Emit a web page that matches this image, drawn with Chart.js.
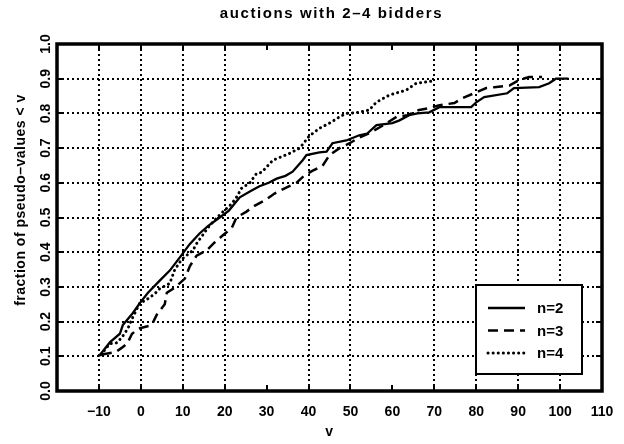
<!DOCTYPE html>
<html>
<head>
<meta charset="utf-8">
<script src="https://cdn.jsdelivr.net/npm/chart.js@4.4.0/dist/chart.umd.min.js"></script>
<style>
  html, body { margin: 0; padding: 0; background: #fff; }
</style>
</head>
<body>
<canvas id="chart" width="624" height="444"></canvas>
<script>
const vN2 = [-10, -7.4, -5, -4.3, -1.9, -0.2, 1.7, 4.5, 6.9, 9.3, 11.7, 14, 16, 18.8, 21, 23.6, 26, 28.3, 30.5, 32.4,
  34.5, 36.2, 38.6, 39.5, 42.6, 44.3, 45.7, 49, 52.1, 54, 56.2, 60, 61.7, 64, 66, 68.8, 71.2, 78.8, 80, 81.9,
  87.4, 89, 95, 97.4, 99, 102]
const fN2 = [0.10, 0.14, 0.165, 0.19, 0.225, 0.254, 0.283, 0.318, 0.347, 0.385, 0.424, 0.454, 0.475, 0.50, 0.52, 0.558, 0.575, 0.59, 0.60, 0.612,
  0.62, 0.632, 0.665, 0.68, 0.688, 0.69, 0.714, 0.722, 0.737, 0.742, 0.766, 0.772, 0.78, 0.795, 0.80, 0.803, 0.818, 0.818, 0.832, 0.847,
  0.858, 0.873, 0.876, 0.887, 0.90, 0.90]

const vN3 = [-9.3, -6, -4.5, -3.3, -2.1, -0.5, 2.6, 3.8, 5.7, 6.2, 8.1, 10.5, 11.7, 13.3, 15.7, 17.6, 19.5, 21.7, 22.8, 25.2,
  27, 29.5, 31.9, 34.8, 37.1, 39, 41, 43.3, 45, 47.4, 49.8, 52, 54.5, 57, 61, 63.6, 66.4, 68.8, 71, 74.8,
  76.7, 79.5, 82.4, 84.8, 87.9, 90.2, 92.6, 95.7]
const fN3 = [0.105, 0.112, 0.125, 0.136, 0.165, 0.18, 0.19, 0.22, 0.25, 0.283, 0.298, 0.324, 0.36, 0.39, 0.405, 0.428, 0.448, 0.47, 0.50, 0.517,
  0.533, 0.549, 0.569, 0.587, 0.60, 0.621, 0.635, 0.648, 0.68, 0.70, 0.714, 0.73, 0.743, 0.76, 0.79, 0.795, 0.81, 0.815, 0.823, 0.83,
  0.844, 0.858, 0.873, 0.876, 0.88, 0.896, 0.905, 0.905]

const vN4 = [-9.5, -7.4, -5.7, -4.5, -3.1, -2.1, -0.2, 1, 3.3, 4.5, 6.9, 8.1, 9.8, 12.4, 13.3, 16.4, 19, 21.7, 22.8, 24,
  26, 27.6, 28.8, 31.5, 35.5, 37.9, 39, 40.2, 42.6, 45, 47.4, 49, 52, 54.5, 56, 57, 59.3, 63.3, 65.7, 69.5]
const fN4 = [0.105, 0.136, 0.139, 0.155, 0.18, 0.208, 0.255, 0.26, 0.28, 0.295, 0.31, 0.35, 0.38, 0.405, 0.425, 0.477, 0.51, 0.54, 0.558, 0.584,
  0.60, 0.627, 0.63, 0.665, 0.685, 0.70, 0.717, 0.735, 0.757, 0.772, 0.79, 0.80, 0.803, 0.81, 0.83, 0.838, 0.853, 0.867, 0.887, 0.893]

const seriesLabels = ['n=2', 'n=3', 'n=4']
// grid lines that show in the original (none at 30 and 60)
const xGrid = [-10, 0, 10, 20, 40, 50, 70, 80, 90, 100]
const yGrid = [0.1, 0.2, 0.3, 0.4, 0.5, 0.6, 0.7, 0.8, 0.9]

const FONT = "'Liberation Sans', Arial, sans-serif"

function pts(vs, fs) {
  return vs.map((v, i) => ({ x: v, y: fs[i] }))
}

const framePlugin = {
  id: 'frame',
  beforeDatasetsDraw(chart) {
    const { ctx, chartArea: a, scales: { x, y } } = chart
    ctx.save()
    ctx.strokeStyle = '#000'
    ctx.lineWidth = 2
    ctx.setLineDash([2, 3])
    xGrid.forEach(v => {
      const px = Math.round(x.getPixelForValue(v))
      ctx.beginPath(); ctx.moveTo(px, a.top); ctx.lineTo(px, a.bottom); ctx.stroke()
    })
    yGrid.forEach(v => {
      const py = Math.round(y.getPixelForValue(v))
      ctx.beginPath(); ctx.moveTo(a.left, py); ctx.lineTo(a.right, py); ctx.stroke()
    })
    ctx.restore()
  },
  afterDatasetsDraw(chart) {
    const { ctx, chartArea: a, scales: { x, y } } = chart
    ctx.save()
    ctx.strokeStyle = '#000'
    ctx.fillStyle = '#000'

    // inward tick marks
    ctx.lineWidth = 2
    x.ticks.forEach(t => {
      const px = Math.round(x.getPixelForValue(t.value))
      ctx.beginPath()
      ctx.moveTo(px, a.bottom); ctx.lineTo(px, a.bottom - 6)
      ctx.moveTo(px, a.top); ctx.lineTo(px, a.top + 6)
      ctx.stroke()
    })
    y.ticks.forEach(t => {
      const py = Math.round(y.getPixelForValue(t.value))
      ctx.beginPath()
      ctx.moveTo(a.left, py); ctx.lineTo(a.left + 6, py)
      ctx.moveTo(a.right, py); ctx.lineTo(a.right - 6, py)
      ctx.stroke()
    })

    // box round the axes
    ctx.lineWidth = 3.5
    ctx.strokeRect(a.left, a.top, a.right - a.left, a.bottom - a.top)

    // legend inside the plot, lower right
    const lx = 476, ly = 285, lw = 106, lh = 89
    ctx.fillStyle = '#fff'
    ctx.fillRect(lx, ly, lw, lh)
    ctx.lineWidth = 2
    ctx.strokeRect(lx, ly, lw, lh)
    ctx.fillStyle = '#000'
    ctx.font = 'bold 15px ' + FONT
    ctx.textAlign = 'left'
    ctx.textBaseline = 'middle'
    chart.data.datasets.forEach((ds, i) => {
      const ry = ly + 23 + i * 22.5
      ctx.save()
      ctx.lineWidth = ds.borderWidth
      ctx.lineCap = ds.borderCapStyle || 'butt'
      ctx.setLineDash(ds.borderDash || [])
      ctx.beginPath(); ctx.moveTo(488, ry); ctx.lineTo(525, ry); ctx.stroke()
      ctx.restore()
      ctx.fillText(ds.label, 537, ry + 1)
    })

    // titles
    ctx.textAlign = 'center'
    ctx.font = 'bold 15px ' + FONT
    ctx.letterSpacing = '1.6px'
    ctx.fillText('auctions with 2\u20134 bidders', (a.left + a.right) / 2 + 2, 14)
    ctx.font = 'bold 14px ' + FONT
    ctx.letterSpacing = '0.5px'
    ctx.fillText('v', (a.left + a.right) / 2, 432)
    ctx.translate(21, 200)
    ctx.rotate(-Math.PI / 2)
    ctx.fillText('fraction of pseudo\u2013values < v', 0, 0)
    ctx.restore()
  }
}

new Chart(document.getElementById('chart'), {
  type: 'line',
  data: {
    datasets: [
      {
        label: seriesLabels[0],
        data: pts(vN2, fN2),
        borderColor: '#000',
        borderWidth: 2.3,
        pointRadius: 0
      },
      {
        label: seriesLabels[1],
        data: pts(vN3, fN3),
        borderColor: '#000',
        borderWidth: 2.5,
        borderDash: [10, 6],
        pointRadius: 0
      },
      {
        label: seriesLabels[2],
        data: pts(vN4, fN4),
        borderColor: '#000',
        borderWidth: 3,
        borderDash: [0.1, 5],
        borderCapStyle: 'round',
        pointRadius: 0
      }
    ]
  },
  options: {
    responsive: false,
    animation: false,
    devicePixelRatio: 1,
    layout: { padding: { top: 44, right: 22, left: 0, bottom: 0 } },
    plugins: {
      legend: { display: false },
      title: { display: false },
      tooltip: { enabled: false }
    },
    scales: {
      x: {
        type: 'linear',
        min: -20,
        max: 110,
        grid: { display: false },
        border: { display: false },
        afterFit: s => { s.height = 53 },
        ticks: {
          stepSize: 10,
          padding: 5,
          color: '#000',
          maxRotation: 0,
          font: { family: FONT, size: 14, weight: 'bold' },
          callback: v => (v === -20 ? '' : String(v).replace('-', '\u2212'))
        }
      },
      y: {
        min: 0,
        max: 1,
        grid: { display: false },
        border: { display: false },
        afterFit: s => { s.width = 57 },
        ticks: {
          stepSize: 0.1,
          padding: -7,
          minRotation: 90,
          maxRotation: 90,
          crossAlign: 'center',
          color: '#000',
          font: { family: FONT, size: 14, weight: 'bold' },
          callback: v => v.toFixed(1)
        }
      }
    }
  },
  plugins: [framePlugin]
})
</script>
</body>
</html>
